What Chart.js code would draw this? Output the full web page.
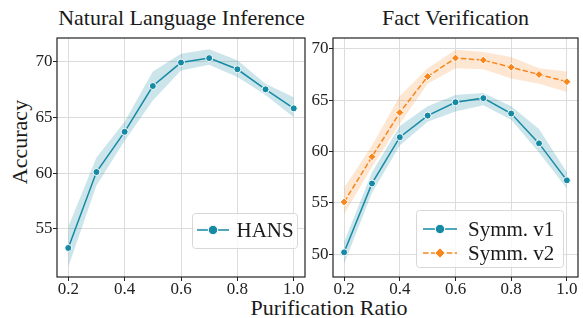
<!DOCTYPE html>
<html>
<head>
<meta charset="utf-8">
<script src="https://cdn.jsdelivr.net/npm/chart.js@4.4.0/dist/chart.umd.min.js"></script>
<style>
  body { margin: 0; background: #fff; width: 583px; height: 318px; position: relative; overflow: hidden;
         font-family: "Liberation Serif", "Times New Roman", serif; color: #1a1a1a; }
  canvas { position: absolute; top: 0; }
  .lbl { position: absolute; font-size: 22px; white-space: nowrap; transform: translate(-50%, -50%); }
</style>
</head>
<body>
<div class="lbl" style="left:181.5px; top:18px">Natural Language Inference</div>
<div class="lbl" style="left:455.5px; top:18px">Fact Verification</div>
<div class="lbl" style="left:20px; top:142px; transform: translate(-50%, -50%) rotate(-90deg)">Accuracy</div>
<div class="lbl" style="left:329px; top:308px">Purification Ratio</div>
<canvas id="nli" width="310" height="318" style="left:0"></canvas>
<canvas id="fv" width="293" height="318" style="left:290px"></canvas>
<script>
// data
const ratios = [0.2, 0.3, 0.4, 0.5, 0.6, 0.7, 0.8, 0.9, 1.0];
const xTicks = [0.2, 0.4, 0.6, 0.8, 1.0];
const nliTicks = [55, 60, 65, 70];
const fvTicks = [50, 55, 60, 65, 70];

const hansMean = [53.3, 60.1, 63.7, 67.8, 69.9, 70.3, 69.3, 67.5, 65.8];
const hansLow  = [51.6, 58.9, 62.9, 66.5, 69.2, 69.7, 68.6, 67.0, 65.0];
const hansHigh = [55.2, 61.4, 64.6, 69.1, 70.7, 71.1, 70.1, 68.0, 66.8];

const v1Mean = [50.2, 56.9, 61.4, 63.5, 64.8, 65.2, 63.7, 60.8, 57.2];
const v1Low  = [49.1, 56.0, 60.6, 62.9, 63.9, 64.5, 63.1, 59.9, 56.4];
const v1High = [51.2, 58.0, 62.5, 64.4, 65.5, 65.7, 64.4, 62.2, 58.0];

const v2Mean = [55.1, 59.5, 63.8, 67.3, 69.1, 68.9, 68.2, 67.5, 66.8];
const v2Low  = [53.9, 58.5, 62.7, 66.6, 68.1, 68.0, 67.1, 66.6, 65.8];
const v2High = [56.5, 60.6, 65.4, 68.1, 69.9, 69.7, 69.2, 68.1, 67.8];

const TEAL = "#168aa5", ORANGE = "#f7861d";
const SERIF = "'Liberation Serif', 'Times New Roman', serif";

const pts = arr => ratios.map((x, i) => ({ x: x, y: arr[i] }));

function band(high, low, color, order) {
  return [
    { band: true, data: pts(high), fill: "+1", backgroundColor: color, borderWidth: 0, pointRadius: 0, order: order },
    { band: true, data: pts(low), fill: false, borderWidth: 0, pointRadius: 0, order: order }
  ];
}

function line(label, arr, color, style, dash, order) {
  return {
    label: label, data: pts(arr), borderColor: color, backgroundColor: color,
    borderWidth: 1.5, borderDash: dash, pointStyle: style,
    pointRadius: style === "rectRot" ? 4 : 3.5,
    pointBorderColor: "#fff", pointBorderWidth: 1, fill: false, order: order
  };
}

// full box around the plot area
const frame = {
  id: "frame",
  afterDatasetsDraw(chart) {
    const a = chart.chartArea, ctx = chart.ctx;
    ctx.save();
    ctx.strokeStyle = "#222";
    ctx.lineWidth = 1.2;
    ctx.strokeRect(a.left, a.top, a.right - a.left, a.bottom - a.top);
    ctx.restore();
  }
};

// matplotlib-like legend box inside the axes
const boxLegend = {
  id: "boxLegend",
  afterDatasetsDraw(chart, args, o) {
    const { ctx, chartArea } = chart;
    const items = chart.data.datasets.filter(d => !d.band);
    const x0 = chartArea.right - o.right - o.width;
    const y0 = chartArea.bottom - o.bottom - o.height;
    ctx.save();
    ctx.beginPath();
    ctx.roundRect(x0 + 0.5, y0 + 0.5, o.width, o.height, 3);
    ctx.fillStyle = "rgba(255,255,255,0.8)";
    ctx.fill();
    ctx.strokeStyle = "#d8d8d8";
    ctx.lineWidth = 1;
    ctx.stroke();
    items.forEach((d, i) => {
      const cy = y0 + o.firstRow + i * o.rowGap;
      const lx = x0 + o.lineStart;
      ctx.strokeStyle = d.borderColor;
      ctx.lineWidth = d.borderWidth;
      ctx.setLineDash(d.borderDash || []);
      ctx.beginPath();
      ctx.moveTo(lx, cy);
      ctx.lineTo(lx + o.lineLen, cy);
      ctx.stroke();
      ctx.setLineDash([]);
      ctx.fillStyle = d.borderColor;
      ctx.strokeStyle = "#fff";
      ctx.lineWidth = 1;
      Chart.helpers.drawPoint(ctx, { pointStyle: d.pointStyle, radius: d.pointRadius + 1.2, borderWidth: 1, rotation: 0 },
        lx + o.lineLen / 2, cy);
      ctx.fillStyle = "#1a1a1a";
      ctx.font = "21px " + SERIF;
      ctx.textBaseline = "middle";
      ctx.fillText(d.label, x0 + o.textStart, cy + 1);
    });
    ctx.restore();
  }
};

function options(yMin, yMax, yTicks, yWidth, padRight, legendOpts) {
  const tickFont = { family: SERIF, size: 17, lineHeight: 1 };
  return {
    responsive: false,
    animation: false,
    devicePixelRatio: 1,
    layout: { padding: { top: 38, right: padRight, bottom: 16, left: 0 } },
    plugins: { legend: { display: false }, tooltip: { enabled: false }, boxLegend: legendOpts },
    scales: {
      x: {
        type: "linear", min: 0.16, max: 1.04,
        afterBuildTicks: s => { s.ticks = xTicks.map(v => ({ value: v })); },
        afterFit: s => { s.height = 25; },
        border: { display: false },
        grid: { color: "#dcdcdc", lineWidth: 1, tickColor: "#222", tickLength: 4 },
        ticks: { font: tickFont, color: "#222", padding: 0, maxRotation: 0, callback: v => v.toFixed(1) }
      },
      y: {
        min: yMin, max: yMax,
        afterBuildTicks: s => { s.ticks = yTicks.map(v => ({ value: v })); },
        afterFit: s => { s.width = yWidth; },
        border: { display: false },
        grid: { color: "#dcdcdc", lineWidth: 1, tickColor: "#222", tickLength: 4 },
        ticks: { font: tickFont, color: "#222", padding: 0.5, callback: v => v }
      }
    }
  };
}

new Chart(document.getElementById("nli"), {
  type: "line",
  data: {
    datasets: [
      line("HANS", hansMean, TEAL, "circle", [], 0),
      ...band(hansHigh, hansLow, "rgba(22,138,165,0.22)", 1)
    ]
  },
  options: options(50.7, 72.1, nliTicks, 57, 4,
    { width: 105, height: 35, right: 8, bottom: 29, lineStart: 5, lineLen: 32, textStart: 44.5, firstRow: 17, rowGap: 24 }),
  plugins: [frame, boxLegend]
});

new Chart(document.getElementById("fv"), {
  type: "line",
  data: {
    datasets: [
      line("Symm. v1", v1Mean, TEAL, "circle", [], 2),
      ...band(v1High, v1Low, "rgba(22,138,165,0.22)", 3),
      line("Symm. v2", v2Mean, ORANGE, "rectRot", [5.5, 2.4], 0),
      ...band(v2High, v2Low, "rgba(247,134,29,0.2)", 1)
    ]
  },
  options: options(47.8, 71.05, fvTicks, 43, 5,
    { width: 147, height: 57, right: 15, bottom: 10, lineStart: 7, lineLen: 34, textStart: 52, firstRow: 19, rowGap: 24 }),
  plugins: [frame, boxLegend]
});
</script>
</body>
</html>
